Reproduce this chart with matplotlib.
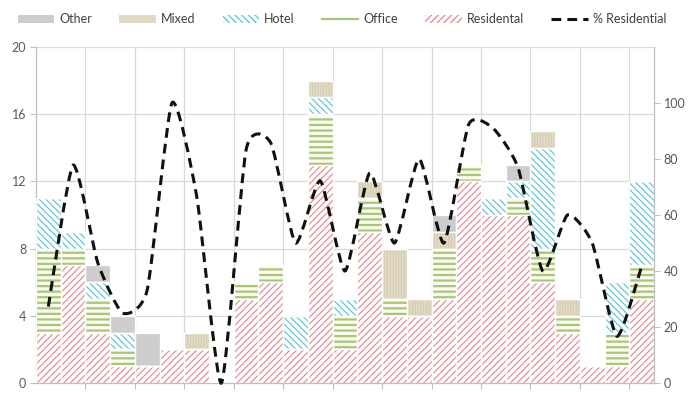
import matplotlib
matplotlib.use("Agg")
import matplotlib.pyplot as plt
import numpy as np
from matplotlib.path import Path
from matplotlib.patches import PathPatch, Patch
from matplotlib.lines import Line2D

# Units per project, stacked by use
residential = [3, 7, 3, 1, 1, 2, 2, 0, 5, 6, 2, 13, 2, 9, 4, 4, 5, 12, 10, 10, 6, 3, 1, 1, 5]
office      = [5, 1, 2, 1, 0, 0, 0, 0, 1, 1, 0, 3, 2, 2, 1, 0, 3, 1, 0, 1, 2, 1, 0, 2, 2]
hotel       = [3, 1, 1, 1, 0, 0, 0, 0, 0, 0, 2, 1, 1, 0, 0, 0, 0, 0, 1, 1, 6, 0, 0, 3, 5]
mixed       = [0, 0, 0, 0, 0, 0, 1, 0, 0, 0, 0, 1, 0, 1, 3, 1, 1, 0, 0, 0, 1, 1, 0, 0, 0]
other       = [0, 0, 1, 1, 2, 0, 0, 0, 0, 0, 0, 0, 0, 0, 0, 0, 1, 0, 0, 1, 0, 0, 0, 0, 0]
# Share of residential use (right axis, %)
pct_residential = [27.3, 77.8, 42.9, 25.0, 33.3, 100.0, 66.7, 0.0, 83.3, 85.7, 50.0, 72.2, 40.0,
                   75.0, 50.0, 80.0, 50.0, 92.3, 90.9, 76.9, 40.0, 60.0, 50.0, 16.7, 41.7]

left_ticks = [0, 4, 8, 12, 16, 20]
right_ticks = [0, 20, 40, 60, 80, 100]

plt.rcParams['font.family'] = ['Lato', 'DejaVu Sans']
text_color = '#595959'
axis_color = '#bfbfbf'
grid_color = '#d9d9d9'

fig = plt.figure(figsize=(6.88, 3.96), dpi=100)
ax = fig.add_axes([36 / 688, 13 / 396, 618 / 688, 336 / 396])

x = np.arange(len(residential))
series = [
    # name, values, face, hatch, hatch colour, hatch linewidth
    ('Residental', residential, 'white', '/////', '#e3909b', 0.9),
    ('Office', office, '#fbfbec', '---', '#a9c47f', 1.6),
    ('Hotel', hotel, 'white', '\\\\\\\\\\', '#66c6d8', 0.9),
    ('Mixed', mixed, '#e0d9c3', '||||||', '#d4cbb1', 0.6),
    ('Other', other, '#cdcdcd', None, '#cdcdcd', 1.0),
]

bottom = np.zeros(len(x))
for name, vals, face, hatch, hcol, hlw in series:
    vals = np.asarray(vals, dtype=float)
    with plt.rc_context({'hatch.linewidth': hlw}):
        ax.bar(x, vals, bottom=bottom, width=1.0, facecolor=face, hatch=hatch,
               edgecolor=hcol, linewidth=0, zorder=2)
    ax.bar(x, vals, bottom=bottom, width=1.0, fill=False, edgecolor='white',
           linewidth=0.9, zorder=3)
    bottom += vals

ax.set_xlim(-0.5, len(x) - 0.5)
ax.set_ylim(0, 20)
ax.set_yticks(left_ticks)
ax.set_xticks(np.arange(1.5, len(x) - 0.5, 2))
ax.set_xticklabels([])
ax.grid(True, color=grid_color, linewidth=0.9, zorder=0)
ax.set_axisbelow(True)
ax.tick_params(axis='y', colors=text_color, labelsize=9, length=4, width=0.8,
               color=axis_color, pad=3)
ax.tick_params(axis='x', length=4, width=0.8, color=axis_color)
for side in ('top', 'right'):
    ax.spines[side].set_visible(False)
for side in ('left', 'bottom'):
    ax.spines[side].set_color(axis_color)
    ax.spines[side].set_linewidth(0.9)

# Right axis with the smoothed residential share line
ax2 = ax.twinx()
ax2.set_ylim(0, 120)
ax2.set_yticks(right_ticks)
ax2.tick_params(axis='y', colors=text_color, labelsize=9, length=4, width=0.8,
                color=axis_color, pad=3)
for side in ('top', 'left', 'bottom'):
    ax2.spines[side].set_visible(False)
ax2.spines['right'].set_color(axis_color)
ax2.spines['right'].set_linewidth(0.9)

tension = 0.1
pts = np.column_stack([x, pct_residential]).astype(float)
verts = [pts[0]]
codes = [Path.MOVETO]
n = len(pts)
for i in range(n - 1):
    p0 = pts[i - 1] if i > 0 else pts[i]
    p1 = pts[i]
    p2 = pts[i + 1]
    p3 = pts[i + 2] if i + 2 < n else pts[i + 1]
    c1 = p1 + (p2 - p0) * tension
    c2 = p2 - (p3 - p1) * tension
    verts += [c1, c2, p2]
    codes += [Path.CURVE4] * 3
line_path = Path(verts, codes)
ax2.add_patch(PathPatch(line_path, fill=False, edgecolor='#111111', linewidth=2.2,
                        linestyle=(0, (3.2, 2.0)), zorder=5, clip_on=False))

handles = [
    Patch(facecolor='#cdcdcd', edgecolor='none'),
    Patch(facecolor='#e0d9c3', edgecolor='none'),
    Patch(facecolor='white', hatch='\\\\\\\\\\', edgecolor='#66c6d8', linewidth=0),
    Line2D([0], [0], color='#a9c47f', linewidth=1.6),
    Patch(facecolor='white', hatch='/////', edgecolor='#e3909b', linewidth=0),
    Line2D([0], [0], color='#111111', linewidth=2.2, linestyle=(0, (3.2, 2.0))),
]
labels = ['Other', 'Mixed', 'Hotel', 'Office', 'Residental', '% Residential']
leg = fig.legend(handles, labels, loc='upper center', bbox_to_anchor=(0.497, 0.995),
                 ncol=6, frameon=False, fontsize=9, handlelength=2.9, handleheight=0.6,
                 handletextpad=0.4, columnspacing=2.2, labelcolor='#404040')

fig.savefig('out.png', dpi=100)
